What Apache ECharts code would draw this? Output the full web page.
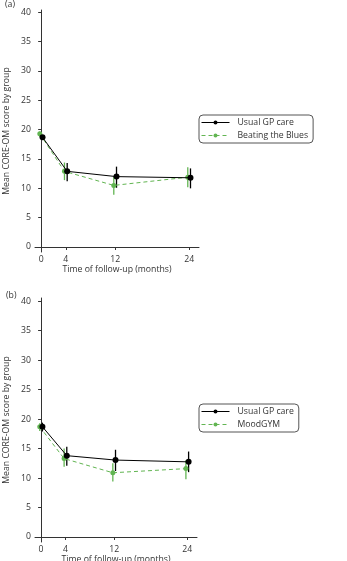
<!DOCTYPE html>
<html>
<head>
<meta charset="utf-8">
<script src="https://cdn.jsdelivr.net/npm/echarts@6/dist/echarts.min.js"></script>
<style>
  html, body { margin: 0; padding: 0; background: #fff; }
  #chart { width: 347px; height: 561px; }
</style>
</head>
<body>
<div id="chart"></div>
<script>
// follow-up months
const months = [0, 4, 12, 24];
const yTicks = [0, 5, 10, 15, 20, 25, 30, 35, 40];

// panel (a)
const usualA = [18.7, 12.9, 12.0, 11.8];
const usualALo = [18.3, 11.2, 10.1, 10.0];
const usualAHi = [19.1, 14.3, 13.7, 13.4];
const btbA = [19.3, 12.9, 10.5, 11.9];
const btbALo = [18.8, 11.4, 8.9, 10.2];
const btbAHi = [19.7, 14.4, 12.0, 13.6];

// panel (b)
const usualB = [18.7, 13.8, 13.05, 12.75];
const usualBLo = [17.9, 12.1, 11.2, 11.0];
const usualBHi = [19.4, 15.3, 14.8, 14.5];
const moodB = [18.7, 13.3, 10.9, 11.6];
const moodBLo = [18.0, 11.9, 9.4, 9.8];
const moodBHi = [19.3, 15.0, 12.5, 13.0];

const BLACK = "#000000";
const GREEN = "#62b552";
const FONT = "Open Sans";

const chart = echarts.init(document.getElementById("chart"));

// small horizontal jitter so the two groups don't overlap
function pts(vals, shift) {
    return months.map((m, i) => [m + shift, vals[i]]);
}
function bars(lo, hi, shift) {
    return months.map((m, i) => [m + shift, lo[i], hi[i]]);
}

function lineSeries(name, vals, shift, color, dashed, idx) {
    return {
        name: name,
        type: "line",
        xAxisIndex: idx,
        yAxisIndex: idx,
        data: pts(vals, shift),
        symbol: "circle",
        symbolSize: dashed ? 5 : 6,
        z: dashed ? 3 : 4,
        itemStyle: { color: color },
        lineStyle: { color: color, width: 1, type: dashed ? [4, 3] : "solid" },
        animation: false,
    };
}

function errSeries(lo, hi, shift, color, idx) {
    return {
        type: "custom",
        xAxisIndex: idx,
        yAxisIndex: idx,
        data: bars(lo, hi, shift),
        z: color === BLACK ? 3 : 2,
        silent: true,
        animation: false,
        renderItem: function (params, api) {
            const a = api.coord([api.value(0), api.value(1)]);
            const b = api.coord([api.value(0), api.value(2)]);
            return {
                type: "line",
                shape: { x1: a[0], y1: a[1], x2: b[0], y2: b[1] },
                style: { stroke: color, lineWidth: 1.3 },
            };
        },
    };
}

function xAxis(idx) {
    return {
        type: "value",
        gridIndex: idx,
        min: -1,
        max: 25.6,
        name: "Time of follow-up (months)",
        nameLocation: "middle",
        nameGap: 12,
        nameTextStyle: { fontFamily: FONT, fontSize: 8.7, color: "#333" },
        axisLine: { lineStyle: { color: "#333", width: 1 } },
        axisTick: { customValues: months, length: 3, lineStyle: { color: "#333" } },
        axisLabel: { customValues: months, fontFamily: FONT, fontSize: 8.7, color: "#333", margin: 3 },
        splitLine: { show: false },
    };
}

function yAxis(idx, max) {
    return {
        type: "value",
        gridIndex: idx,
        min: -0.85,
        max: max,
        name: "Mean CORE-OM score by group",
        nameLocation: "middle",
        nameGap: 24,
        nameTextStyle: { fontFamily: FONT, fontSize: 8.7, color: "#333" },
        axisLine: { show: true, lineStyle: { color: "#333", width: 1 } },
        axisTick: { show: true, customValues: yTicks, length: 3, lineStyle: { color: "#333" } },
        axisLabel: { customValues: yTicks, fontFamily: FONT, fontSize: 8.7, color: "#333", margin: 4 },
        splitLine: { show: false },
    };
}

function legend(names, top) {
    return {
        data: names,
        orient: "vertical",
        left: 199,
        top: top,
        itemWidth: 28,
        itemHeight: 5,
        itemGap: 4,
        padding: [3, 5, 3, 2],
        borderColor: "#555",
        borderWidth: 1,
        borderRadius: 4,
        lineStyle: { width: 1 },
        textStyle: { fontFamily: FONT, fontSize: 8.7, color: "#333", padding: [0, 0, 0, 3] },
        selectedMode: false,
    };
}

chart.setOption({
    backgroundColor: "#fff",
    title: [
        { text: "(a)", left: 0, top: -5, textStyle: { fontFamily: FONT, fontSize: 8.7, fontWeight: "normal", color: "#333" } },
        { text: "(b)", left: 1, top: 286, textStyle: { fontFamily: FONT, fontSize: 8.7, fontWeight: "normal", color: "#333" } },
    ],
    grid: [
        { left: 35, top: 10, width: 164, height: 242, outerBoundsMode: "none" },
        { left: 35, top: 298, width: 162, height: 244, outerBoundsMode: "none" },
    ],
    xAxis: [xAxis(0), xAxis(1)],
    yAxis: [yAxis(0, 40.4), yAxis(1, 40.55)],
    legend: [
        legend(["Usual GP care", "Beating the Blues"], 115),
        legend(["Usual GP care", "MoodGYM"], 404),
    ],
    series: [
        errSeries(btbALo, btbAHi, -0.22, GREEN, 0),
        errSeries(usualALo, usualAHi, 0.22, BLACK, 0),
        lineSeries("Beating the Blues", btbA, -0.22, GREEN, true, 0),
        lineSeries("Usual GP care", usualA, 0.22, BLACK, false, 0),
        errSeries(moodBLo, moodBHi, -0.22, GREEN, 1),
        errSeries(usualBLo, usualBHi, 0.22, BLACK, 1),
        lineSeries("MoodGYM", moodB, -0.22, GREEN, true, 1),
        lineSeries("Usual GP care", usualB, 0.22, BLACK, false, 1),
    ],
});
</script>
</body>
</html>
